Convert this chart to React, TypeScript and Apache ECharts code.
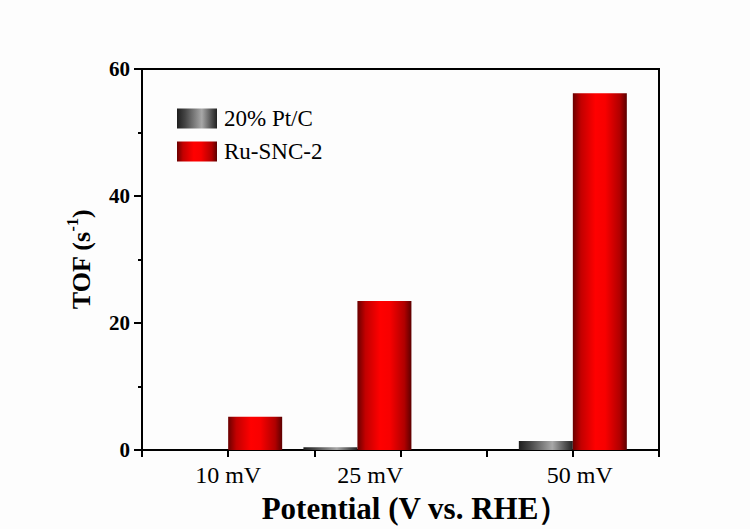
import { useEffect, useRef } from "react";
import * as echarts from "echarts";

// Turnover frequency at three overpotentials
const potentials = ["10 mV", "25 mV", "50 mV"];
const groupPositions = [1, 2.5, 5];
const labelPositions = [1, 2.65, 5.08];
const seriesNames = ["20% Pt/C", "Ru-SNC-2"];
const ptcTof = [0, 0.45, 1.4];
const ruSncTof = [5.25, 23.45, 56.2];

const SERIF = "'Times New Roman', 'Liberation Serif', 'DejaVu Serif', serif";

const pairs = (ys: number[]) => ys.map((y, i) => [groupPositions[i], y]);

const hGradient = (stops: [number, string][]) => ({
  type: "linear" as const,
  x: 0,
  y: 0,
  x2: 1,
  y2: 0,
  colorStops: stops.map(([offset, color]) => ({ offset, color })),
});

const greyFill = hGradient([
  [0, "#1e1e1e"],
  [0.2, "#444444"],
  [0.62, "#a8a8a8"],
  [0.85, "#555555"],
  [1, "#222222"],
]);

const redFill = hGradient([
  [0, "#6a0000"],
  [0.15, "#c20000"],
  [0.42, "#ff0000"],
  [0.6, "#f80000"],
  [0.87, "#b00000"],
  [1, "#5c0000"],
]);

export default function App() {
  const ref = useRef<HTMLDivElement>(null);

  useEffect(() => {
    if (!ref.current) return;
    const chart = echarts.init(ref.current, undefined, { renderer: "svg" });
    const black = "#000";
    chart.setOption({
      animation: false,
      backgroundColor: "#fdfdfd",
      grid: {
        left: 142,
        top: 69,
        right: 91,
        bottom: 79,
        show: true,
        borderColor: black,
        borderWidth: 2,
      },
      legend: {
        left: 172,
        top: 102,
        orient: "vertical",
        icon: "rect",
        itemWidth: 40,
        itemHeight: 20,
        itemGap: 10,
        data: seriesNames,
        textStyle: {
          fontFamily: SERIF,
          fontSize: 23,
          color: black,
          lineHeight: 20,
          padding: [0, 0, 0, 2],
        },
      },
      xAxis: {
        type: "value",
        min: 0,
        max: 6,
        interval: 1,
        splitLine: { show: false },
        axisLine: { show: true, lineStyle: { color: black, width: 2 } },
        axisTick: { show: true, length: 7, lineStyle: { color: black, width: 2 } },
        axisLabel: {
          customValues: labelPositions,
          formatter: (v: number) => {
            let best = -1;
            let d = Infinity;
            labelPositions.forEach((p, i) => {
              if (Math.abs(p - v) < d) {
                d = Math.abs(p - v);
                best = i;
              }
            });
            return d < 0.01 ? potentials[best] : "";
          },
          fontFamily: SERIF,
          fontSize: 24,
          color: black,
          margin: 13,
        },
        name: "Potential (V vs. RHE）",
        nameLocation: "middle",
        nameGap: 43,
        nameTextStyle: {
          fontFamily: SERIF,
          fontSize: 31,
          fontWeight: "bold",
          color: black,
          padding: [0, 0, 0, 30],
        },
      },
      yAxis: {
        type: "value",
        min: 0,
        max: 60,
        interval: 20,
        splitLine: { show: false },
        axisLine: { show: true, lineStyle: { color: black, width: 2 } },
        axisTick: { show: true, length: 8, lineStyle: { color: black, width: 2 } },
        minorTick: { show: true, splitNumber: 2, length: 4, lineStyle: { color: black, width: 2 } },
        axisLabel: {
          fontFamily: SERIF,
          fontSize: 21,
          fontWeight: "bold",
          color: black,
          margin: 12,
        },
        name: "{b|TOF (s}{sup|-1}{b|)}",
        nameLocation: "middle",
        nameRotate: 90,
        nameGap: 48,
        nameTextStyle: {
          rich: {
            b: {
              fontFamily: SERIF,
              fontSize: 26,
              fontWeight: "bold",
              color: black,
              lineHeight: 30,
              verticalAlign: "bottom",
            },
            sup: {
              fontFamily: SERIF,
              fontSize: 16,
              fontWeight: "bold",
              color: black,
              lineHeight: 16,
              verticalAlign: "top",
            },
          },
        },
      },
      series: [
        {
          name: seriesNames[0],
          type: "bar",
          data: pairs(ptcTof),
          barWidth: 54,
          barGap: "0%",
          itemStyle: { color: greyFill },
        },
        {
          name: seriesNames[1],
          type: "bar",
          data: pairs(ruSncTof),
          barWidth: 54,
          barGap: "0%",
          itemStyle: { color: redFill },
        },
      ],
    });
    return () => chart.dispose();
  }, []);

  return (
    <div
      ref={ref}
      style={{ position: "fixed", left: 0, top: 0, width: 750, height: 529 }}
    />
  );
}
